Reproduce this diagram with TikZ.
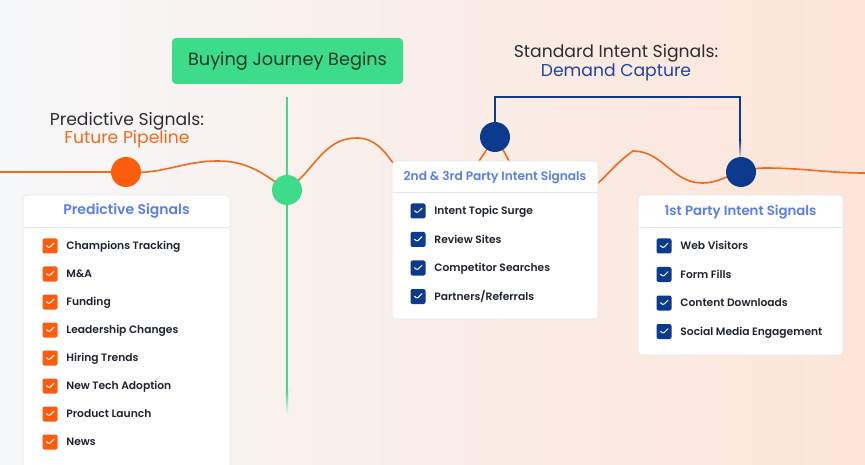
\documentclass[tikz,border=0pt]{standalone}
\usepackage{fontspec}
\setmainfont{Poppins}[BoldFont={Poppins SemiBold}]
\usepackage{xcolor}
\usetikzlibrary{positioning, calc}
\definecolor{bgL}{HTML}{F6F7F9}
\definecolor{bgM}{HTML}{FCEFEA}
\definecolor{bgR}{HTML}{FDE5D8}
\definecolor{wave}{HTML}{F26B1D}
\definecolor{dotO}{HTML}{FB5D0D}
\definecolor{mint}{HTML}{3DDC8A}
\definecolor{navy}{HTML}{0B3A8F}
\definecolor{ttlblue}{HTML}{5A7EF0}
\definecolor{capblue}{HTML}{1F45A3}
\definecolor{ink}{HTML}{1F2430}
\definecolor{hdink}{HTML}{2E2E33}
\definecolor{startink}{HTML}{17382A}
\definecolor{rule}{HTML}{E6E8EC}
\tikzset{
  sigbox/.style = {draw=rule, fill=white, rounded corners=4pt, line width=0.6pt,
                   inner sep=0pt},
  boxtitle/.style = {font=\fontsize{#1}{15}\selectfont\bfseries, text=ttlblue},
  item/.style = {anchor=west, inner sep=0pt, text=ink, text height=7.8pt, text depth=0pt,
                 font=\fontsize{10.7}{12}\selectfont\bfseries},
  chk/.style = {rounded corners=2pt, minimum size=15pt, inner sep=0pt,
                path picture={\draw[white, line width=1pt, line cap=round, line join=round]
                  ($(path picture bounding box.center)+(-3.5pt,0.3pt)$)
                  -- ++(2.5pt,-2.5pt) -- ++(5pt,5pt);}},
  chkO/.style = {chk, fill=dotO},
  chkB/.style = {chk, fill=navy},
  dot/.style  = {circle, minimum size=30pt, inner sep=0pt},
  head/.style = {align=center, font=\fontsize{17.2}{18.5}\selectfont, text=hdink},
}

\begin{document}
\begin{tikzpicture}[x=1pt, y=-1pt]
  \useasboundingbox (0,0) rectangle (865,465);
  % background
  \shade[left color=bgL, middle color=bgM, right color=bgR] (0,0) rectangle (865,465);

  % start marker
  \node[fill=mint, rounded corners=4pt, minimum width=231pt,
        minimum height=46pt, font=\fontsize{17.7}{20}\selectfont, text=startink]
        (start) at (287.5,61) {Buying Journey Begins};
  \coordinate (gtop) at (287,97);
  \coordinate (gend) at (287,390);
  \draw[mint, line width=2.2pt] (gtop) -- (gend);
  \shade[top color=mint, bottom color=bgL] (285.9,390) rectangle (288.1,416);

  % headings
  \node[head] (predhd) at (127,130) {Predictive Signals:\\\textcolor{wave}{Future Pipeline}};
  \node[head] (stdhd) at (616,62.5) {Standard Intent Signals:\\\textcolor{capblue}{Demand Capture}};

  % wave
  \coordinate (w0) at (0,172);
  \coordinate (w1) at (218,161);
  \coordinate (w2) at (357,138);
  \coordinate (w3) at (432,192);
  \coordinate (w4) at (556,202);
  \coordinate (w5) at (633,151);
  \coordinate (w6) at (702,183);
  \coordinate (w7) at (765,168);
  \coordinate (w8) at (865,173);
  \coordinate (d1c) at (126,172);
  \coordinate (d2c) at (287,190);
  \coordinate (d3c) at (495,137);
  \coordinate (d4c) at (741,172);
  \draw[wave, line width=1.6pt]
    (w0) to[out=0,in=180] (d1c) to[out=-5,in=180] (w1) to[out=0,in=145] (d2c)
    to[out=35,in=180] (w2) to[out=0,in=180] (w3) to[out=0,in=235] (d3c)
    to[out=-55,in=180] (w4) to[out=0,in=215] (w5) to[out=0,in=180] (w6)
    to[out=0,in=195] (d4c) to[out=15,in=180] (w7) to[out=0,in=180] (w8);

  % bracket
  \coordinate (brL) at (495,97);
  \coordinate (brR) at (740,97);
  \coordinate (brE) at (740,140);
  \draw[navy, line width=2pt] (d3c) -- (brL) -- (brR) -- (brE);
  \shade[top color=navy, bottom color=bgR] (739,140) rectangle (741,158);

  % dots
  \node[dot, fill=dotO] (d1) at (d1c) {};
  \node[dot, fill=mint] (d2) at (d2c) {};
  \node[dot, fill=navy] (d3) at (d3c) {};
  \node[dot, fill=navy] (d4) at (d4c) {};

  % predictive box
  \node[sigbox, minimum width=207pt, minimum height=290pt] (predbox) at (126.5,340) {};
  \node[boxtitle=14] (predttl) at (126.5,211) {Predictive Signals};
  \draw[rule, line width=0.8pt] (23.5,227) -- (229.5,227);
  \foreach \t [count=\i] in {Champions Tracking, M\&A, Funding, Leadership Changes,
                             Hiring Trends, New Tech Adoption, Product Launch, News} {
    \node[chkO] (pc\i) at (50,218+28*\i) {};
    \node[item, right=8.5pt of pc\i] (pt\i) {\t};
  }

  % 2nd & 3rd party box
  \node[sigbox, minimum width=206pt, minimum height=158pt] (thirdbox) at (495,240) {};
  \node[boxtitle=12.2] (thirdttl) at (495,177) {2nd \& 3rd Party Intent Signals};
  \draw[rule, line width=0.8pt] (392.5,192) -- (597.5,192);
  \foreach \t [count=\i] in {Intent Topic Surge, Review Sites, Competitor Searches,
                             Partners/Referrals} {
    \node[chkB] (tc\i) at (418,182.5+28.5*\i) {};
    \node[item, right=8.5pt of tc\i] (tt\i) {\t};
  }

  % 1st party box
  \node[sigbox, minimum width=205pt, minimum height=160pt] (firstbox) at (740.5,275) {};
  \node[boxtitle=13.3] (firstttl) at (740.5,212) {1st Party Intent Signals};
  \draw[rule, line width=0.8pt] (638.5,227) -- (842.5,227);
  \foreach \t [count=\i] in {Web Visitors, Form Fills, Content Downloads,
                             Social Media Engagement} {
    \node[chkB] (fc\i) at (664,217.5+28.5*\i) {};
    \node[item, right=8.5pt of fc\i] (ft\i) {\t};
  }
\end{tikzpicture}
\end{document}
